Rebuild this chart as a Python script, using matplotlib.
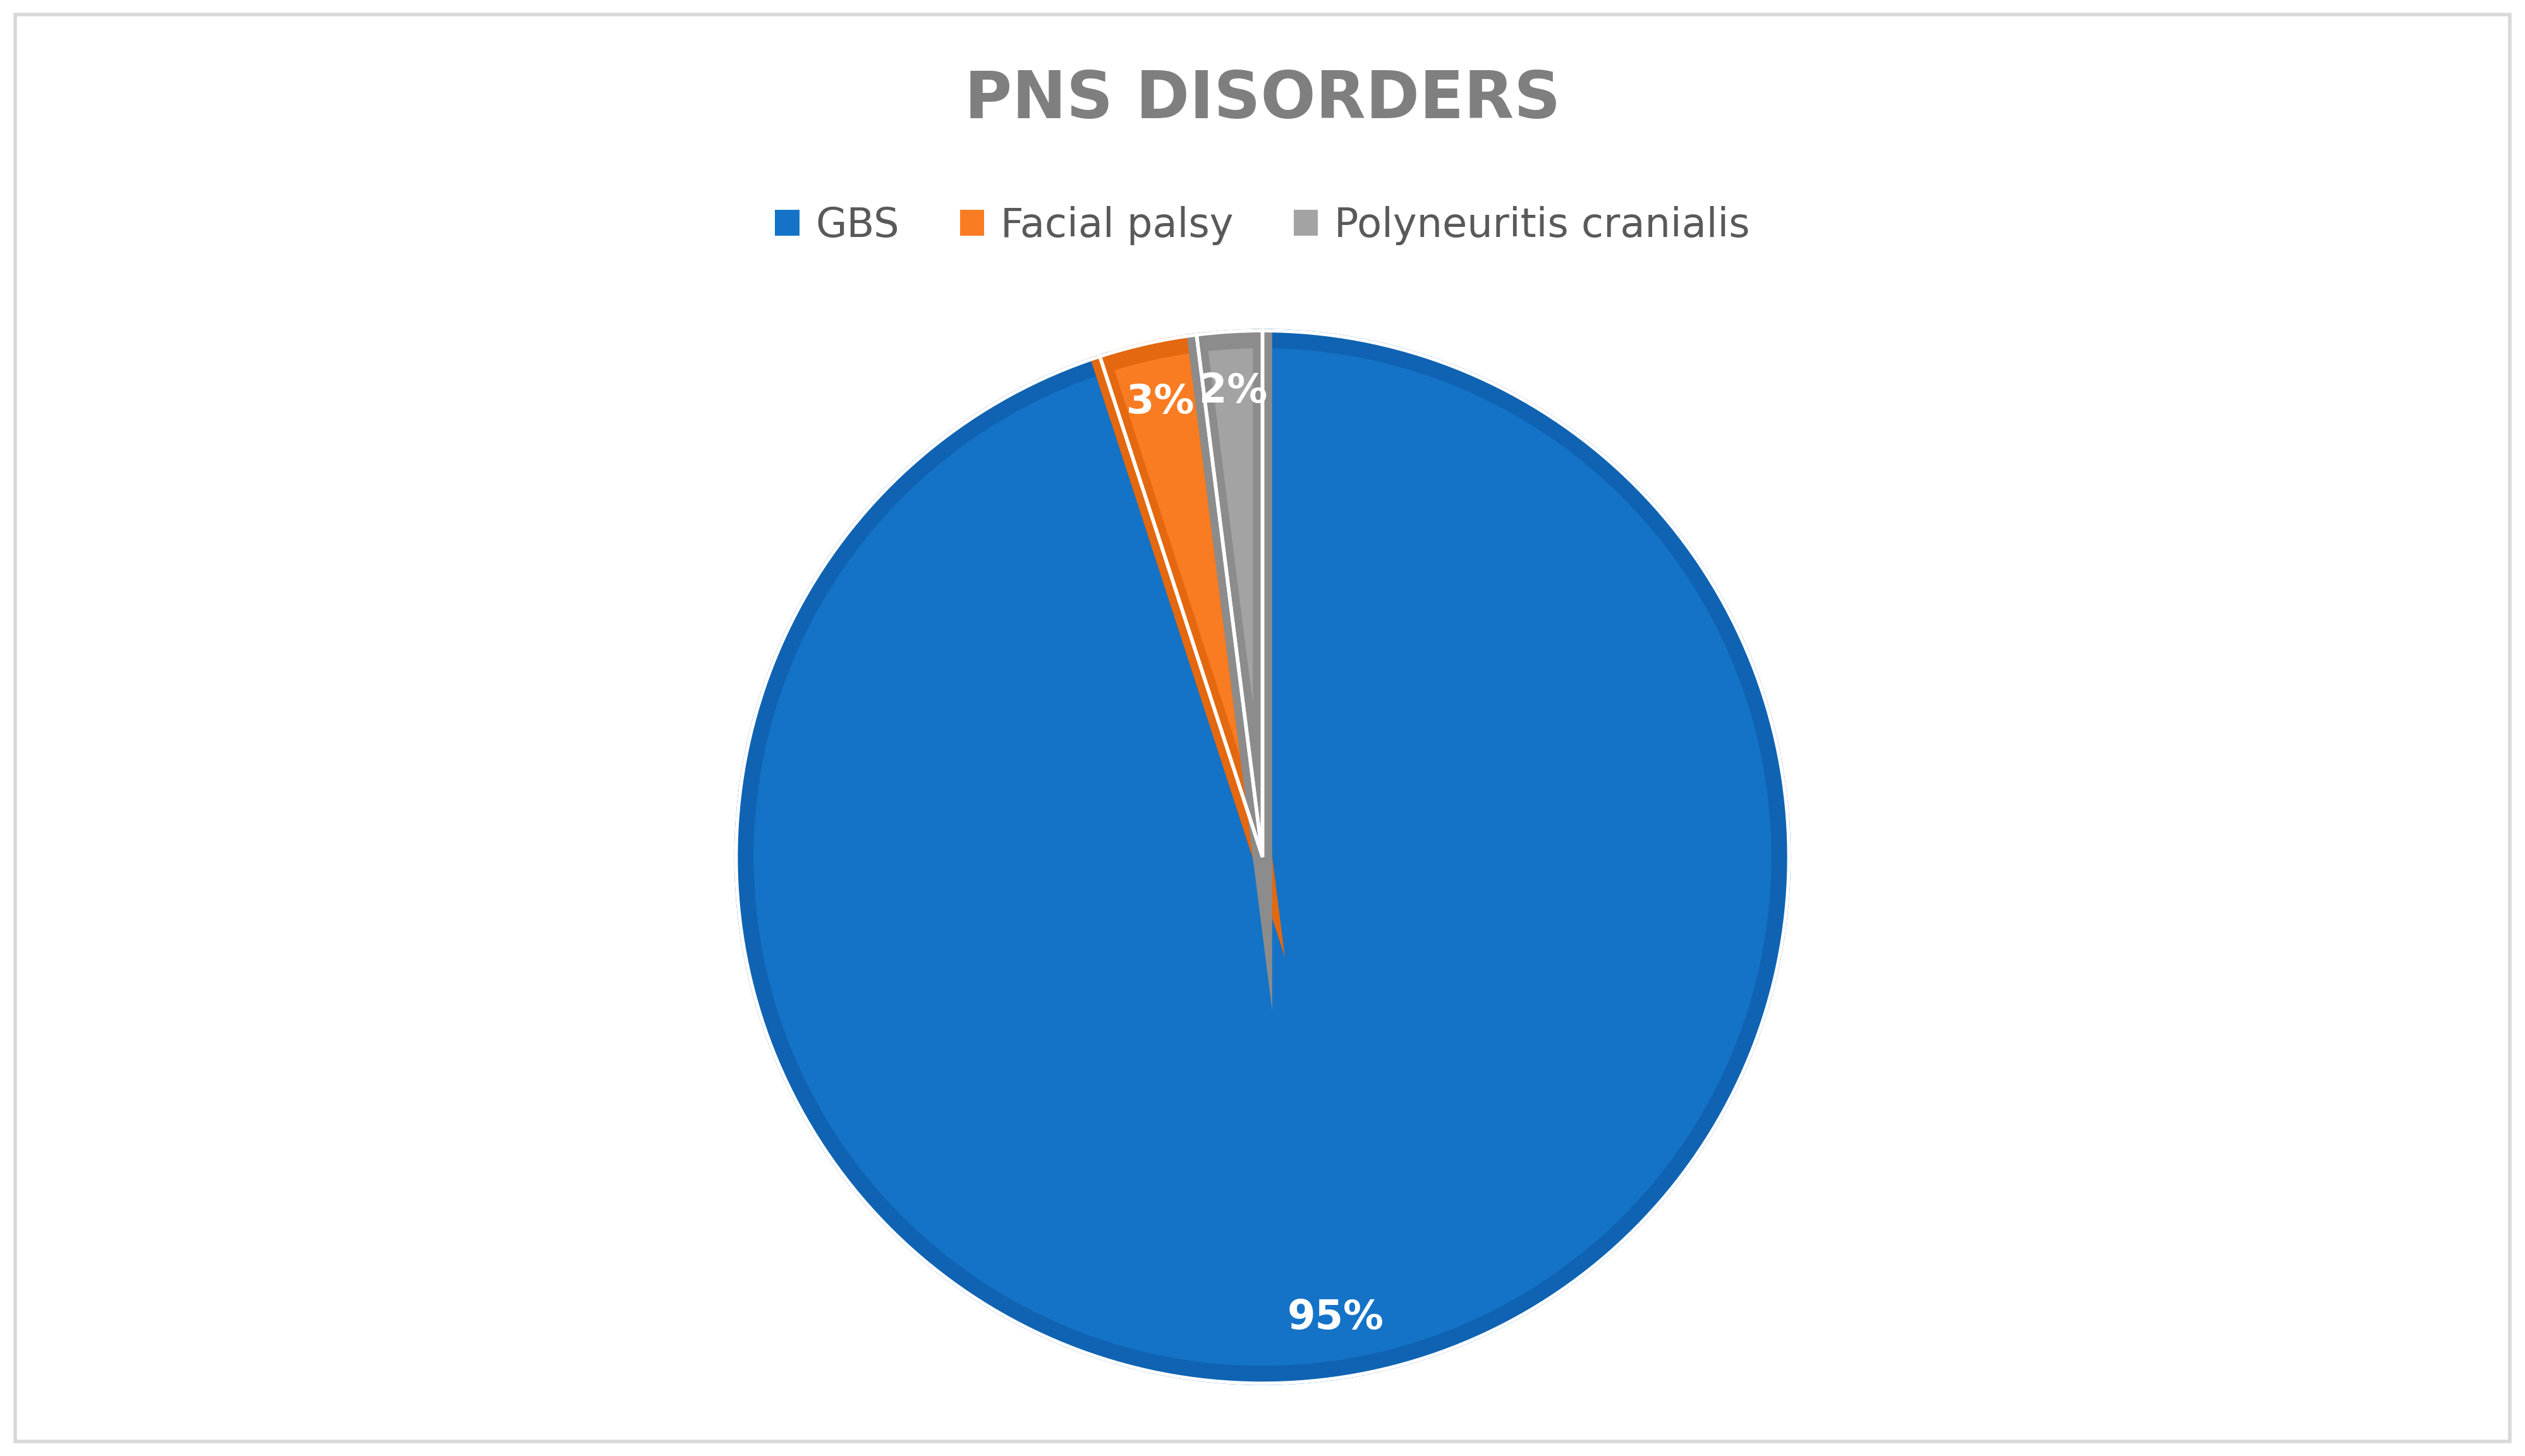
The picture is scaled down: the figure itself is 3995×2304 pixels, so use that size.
import matplotlib
matplotlib.use("Agg")
import matplotlib.pyplot as plt
from matplotlib.patches import Rectangle

categories = ["GBS", "Facial palsy", "Polyneuritis cranialis"]
values = [95, 3, 2]
fill_colors = ["#1473C7", "#F97C22", "#A3A3A3"]
edge_colors = ["#0F63B2", "#E3680F", "#8C8C8C"]

fig = plt.figure(figsize=(39.95, 23.04), dpi=100)
fig.patches.append(Rectangle((0.006, 0.01), 0.988, 0.98, transform=fig.transFigure,
                             fill=False, edgecolor="#D9D9D9", linewidth=4))

ax = fig.add_axes([0.5 - 0.2085, 0.4115 - 0.3616, 0.417, 0.723])
wedges, texts, autotexts = ax.pie(
    values, colors=fill_colors, startangle=90, counterclock=False, radius=0.985,
    autopct="%1.0f%%", pctdistance=0.9,
    wedgeprops=dict(linewidth=22, edgecolor="none"),
    textprops=dict(color="white", fontsize=46, fontweight="bold"))
for w, ec in zip(wedges, edge_colors):
    w.set_edgecolor(ec)
    w.set_joinstyle("miter")
# white separators
w2, _ = ax.pie(values, startangle=90, counterclock=False, radius=1.0,
               colors=["none"] * 3,
               wedgeprops=dict(linewidth=4, edgecolor="white", facecolor="none"))
for w in w2:
    w.set_facecolor("none")
for t in autotexts:
    t.set_zorder(10)
ax.set_xlim(-1, 1)
ax.set_ylim(-1, 1)
ax.set_aspect("equal")
ax.axis("off")

fig.text(0.5, 0.931, "PNS DISORDERS", ha="center", va="center", fontsize=74,
         fontweight="bold", color="#7F7F7F")
leg = fig.legend(wedges, categories, loc="center", bbox_to_anchor=(0.5, 0.845),
                 ncol=3, frameon=False, fontsize=46, labelcolor="#595959",
                 handlelength=0.6, handleheight=0.6, columnspacing=1.5, handletextpad=0.4)
for h in leg.legend_handles:
    h.set_linewidth(0)

fig.savefig("out.png", dpi=100)
